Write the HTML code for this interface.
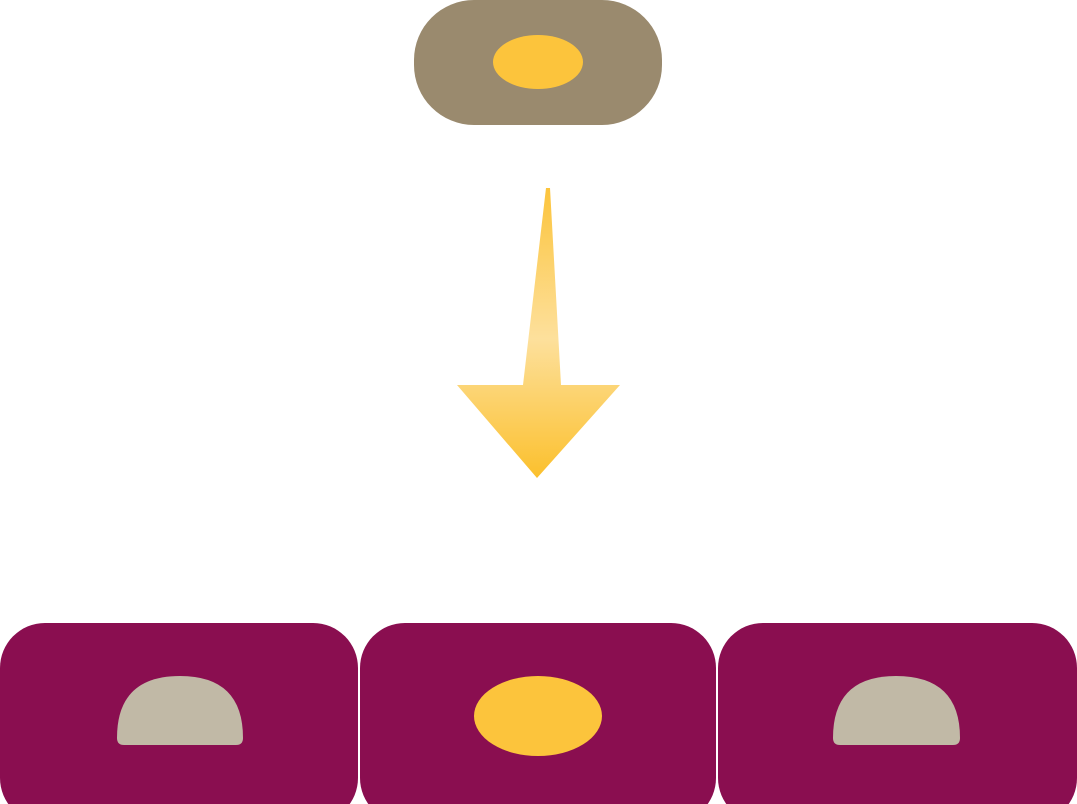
<!DOCTYPE html>
<html><head><meta charset="utf-8"><style>html,body{margin:0;padding:0;background:#fff}svg{display:block}</style></head>
<body>
<svg width="1077" height="804" viewBox="0 0 1077 804" xmlns="http://www.w3.org/2000/svg">
<defs>
<linearGradient id="g" x1="0" y1="188" x2="0" y2="478" gradientUnits="userSpaceOnUse">
<stop offset="0" stop-color="#fcc43c"/>
<stop offset="0.52" stop-color="#fde09c"/>
<stop offset="1" stop-color="#fbc02d"/>
</linearGradient>
</defs>
<rect x="414" y="0" width="248" height="125" rx="60" fill="#9a8a6e"/>
<ellipse cx="538" cy="62" rx="45" ry="27" fill="#fcc43c"/>
<polygon points="546,188 550,188 561,385 620,385 537,478 457,385 523,385" fill="url(#g)"/>
<rect x="0" y="623" width="358" height="200" rx="45" fill="#8a0e50"/>
<rect x="360" y="623" width="356" height="200" rx="45" fill="#8a0e50"/>
<rect x="718" y="623" width="359" height="200" rx="45" fill="#8a0e50"/>
<path d="M117,738 Q117,676 180,676 Q243,676 243,738 Q243,745 236,745 L124,745 Q117,745 117,738 Z" fill="#c1b9a6"/>
<ellipse cx="538" cy="716" rx="64" ry="40" fill="#fcc43c"/>
<path d="M833,738 Q833,676 896,676 Q960,676 960,738 Q960,745 953,745 L840,745 Q833,745 833,738 Z" fill="#c1b9a6"/>
</svg>
</body></html>
